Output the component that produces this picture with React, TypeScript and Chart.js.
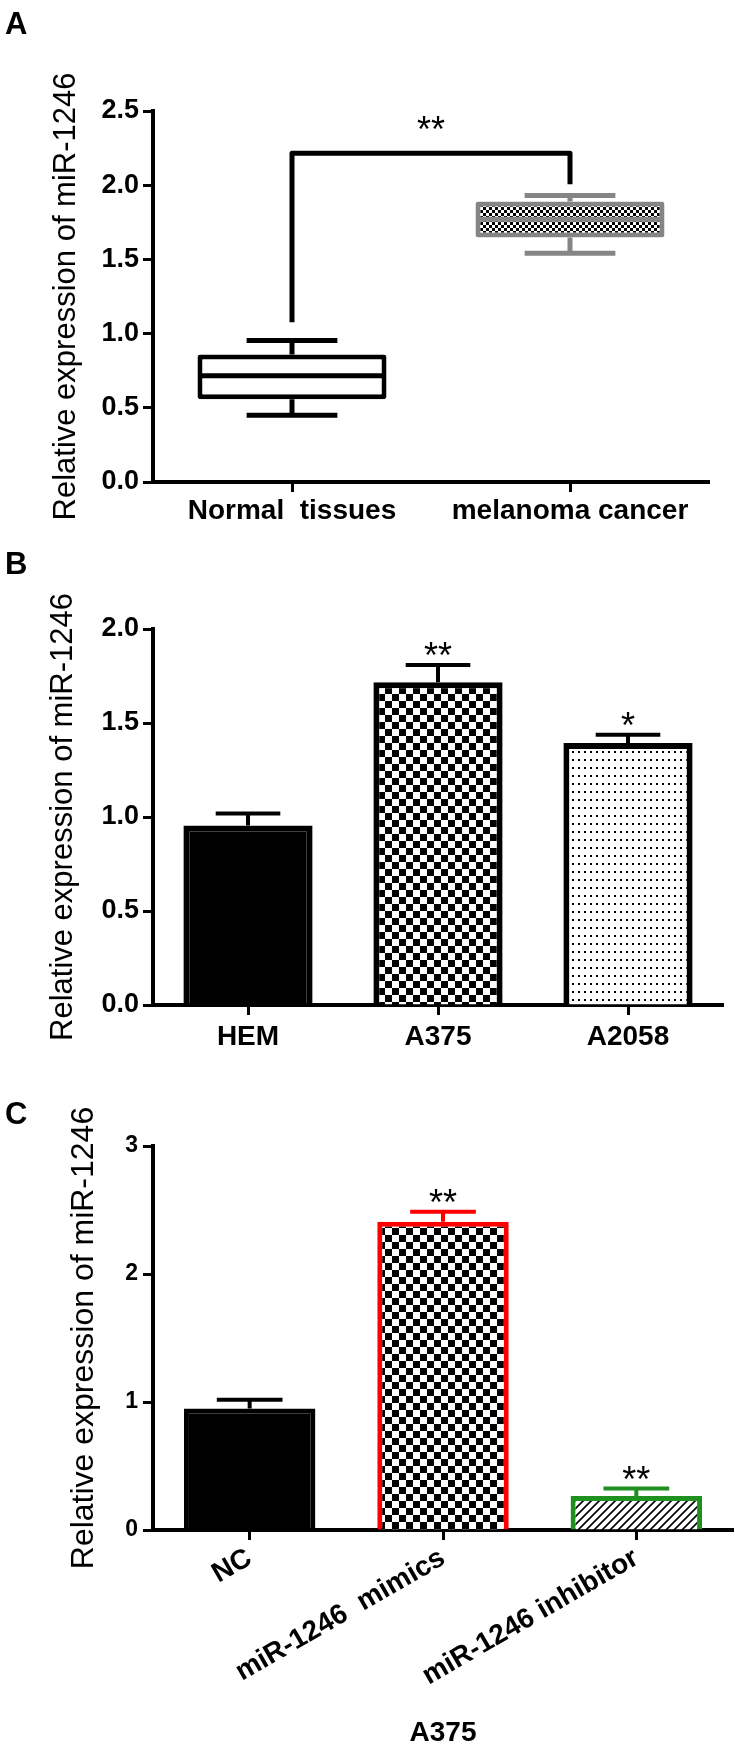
import React, { useEffect, useRef } from 'react';
import { Chart, registerables } from 'chart.js';

Chart.register(...registerables);

// ---------- Panel A : box plot ----------
const boxCategories = ['Normal  tissues', 'melanoma cancer'];
const boxMin = [0.449, 1.542];
const boxQ1 = [0.558, 1.647];
const boxMedian = [0.716, 1.77];
const boxQ3 = [0.86, 1.891];
const boxMax = [0.953, 1.93];
const bracketLegs = [1.077, 2.007];
const bracketTop = 2.216;
const bracketStars = '**';
const boxYTicks = [0, 0.5, 1, 1.5, 2, 2.5];
const boxYTickLabels = ['0.0', '0.5', '1.0', '1.5', '2.0', '2.5'];

// ---------- Panel B : cell lines ----------
const cellCategories = ['HEM', 'A375', 'A2058'];
const cellMeans = [0.955, 1.717, 1.394];
const cellErrors = [0.064, 0.092, 0.043];
const cellStars = ['', '**', '*'];
const cellYTicks = [0, 0.5, 1, 1.5, 2];
const cellYTickLabels = ['0.0', '0.5', '1.0', '1.5', '2.0'];

// ---------- Panel C : A375 transfection ----------
const a375Categories = ['NC', 'miR-1246  mimics', 'miR-1246 inhibitor'];
const a375Means = [0.95, 2.409, 0.266];
const a375Errors = [0.068, 0.078, 0.059];
const a375Stars = ['', '**', '**'];
const a375YTicks = [0, 1, 2, 3];
const a375YTickLabels = ['0', '1', '2', '3'];

const yTitle = 'Relative expression of miR-1246';
const FONT = "'Liberation Sans', Arial, Helvetica, sans-serif";
const W = 735;

function makePattern(w: number, h: number, draw: (c: CanvasRenderingContext2D) => void) {
  const cv = document.createElement('canvas');
  cv.width = w;
  cv.height = h;
  const c = cv.getContext('2d')!;
  c.fillStyle = '#ffffff';
  c.fillRect(0, 0, w, h);
  draw(c);
  return c.createPattern(cv, 'repeat')!;
}

function checker(cell: number) {
  return makePattern(cell * 2, cell * 2, (c) => {
    c.fillStyle = '#000000';
    c.fillRect(0, 0, cell, cell);
    c.fillRect(cell, cell, cell, cell);
  });
}

function dots() {
  return makePattern(6, 8, (c) => {
    c.fillStyle = '#000000';
    c.fillRect(2, 3, 2, 2);
  });
}

function hatch() {
  return makePattern(8, 8, (c) => {
    c.strokeStyle = '#000000';
    c.lineWidth = 1.6;
    c.beginPath();
    c.moveTo(-1, 9);
    c.lineTo(9, -1);
    c.moveTo(-5, 5);
    c.lineTo(5, -5);
    c.moveTo(3, 13);
    c.lineTo(13, 3);
    c.stroke();
  });
}

function drawStars(ctx: CanvasRenderingContext2D, text: string, x: number, cy: number) {
  const size = 36;
  ctx.save();
  ctx.fillStyle = '#000000';
  ctx.font = `${size}px ${FONT}`;
  ctx.textAlign = 'center';
  ctx.textBaseline = 'alphabetic';
  ctx.fillText(text, x, cy + size * 0.57);
  ctx.restore();
}

const boxPlugin = {
  id: 'boxExtras',
  afterDatasetsDraw(chart: any) {
    const ctx: CanvasRenderingContext2D = chart.ctx;
    const y = chart.scales.y;
    const meta = chart.getDatasetMeta(0);
    const colors = ['#000000', '#858585'];
    const xs: number[] = [];
    meta.data.forEach((bar: any, i: number) => {
      const x = bar.x;
      const w = bar.width;
      xs.push(x);
      ctx.save();
      ctx.strokeStyle = colors[i];
      ctx.lineWidth = 5;
      ctx.lineCap = 'butt';
      const capW = w * 0.48;
      const pm = y.getPixelForValue(boxMedian[i]);
      ctx.beginPath();
      ctx.moveTo(x - w / 2 + 3, pm);
      ctx.lineTo(x + w / 2 - 3, pm);
      const p3 = y.getPixelForValue(boxQ3[i]);
      const pMax = y.getPixelForValue(boxMax[i]);
      ctx.moveTo(x, p3);
      ctx.lineTo(x, pMax);
      ctx.moveTo(x - capW / 2, pMax);
      ctx.lineTo(x + capW / 2, pMax);
      const p1 = y.getPixelForValue(boxQ1[i]);
      const pMin = y.getPixelForValue(boxMin[i]);
      ctx.moveTo(x, p1);
      ctx.lineTo(x, pMin);
      ctx.moveTo(x - capW / 2, pMin);
      ctx.lineTo(x + capW / 2, pMin);
      ctx.stroke();
      ctx.restore();
    });
    const top = y.getPixelForValue(bracketTop);
    ctx.save();
    ctx.strokeStyle = '#000000';
    ctx.lineWidth = 5;
    ctx.lineJoin = 'round';
    ctx.beginPath();
    ctx.moveTo(xs[0], y.getPixelForValue(bracketLegs[0]));
    ctx.lineTo(xs[0], top);
    ctx.lineTo(xs[1], top);
    ctx.lineTo(xs[1], y.getPixelForValue(bracketLegs[1]));
    ctx.stroke();
    ctx.restore();
    drawStars(ctx, bracketStars, (xs[0] + xs[1]) / 2, top - 32);
  },
};

function errorPlugin(means: number[], errors: number[], stars: string[], colors: string[]) {
  return {
    id: 'errorBars',
    afterDatasetsDraw(chart: any) {
      const ctx: CanvasRenderingContext2D = chart.ctx;
      const y = chart.scales.y;
      const meta = chart.getDatasetMeta(0);
      meta.data.forEach((bar: any, i: number) => {
        const x = bar.x;
        const w = bar.width;
        const pTop = y.getPixelForValue(means[i]);
        const pCap = y.getPixelForValue(means[i] + errors[i]);
        ctx.save();
        ctx.strokeStyle = colors[i];
        ctx.lineWidth = 4;
        ctx.beginPath();
        ctx.moveTo(x, pTop);
        ctx.lineTo(x, pCap);
        ctx.moveTo(x - w / 4, pCap);
        ctx.lineTo(x + w / 4, pCap);
        ctx.stroke();
        ctx.restore();
        if (stars[i]) drawStars(ctx, stars[i], x, pCap - 17);
      });
    },
  };
}

function axisCommon(tickSize: number) {
  return {
    grid: {
      display: true,
      drawOnChartArea: false,
      drawTicks: true,
      tickLength: 10,
      tickWidth: 3,
      tickColor: '#000000',
      offset: false,
    },
    border: { display: true, color: '#000000', width: 4 },
    ticks: {
      color: '#000000',
      font: { family: FONT, size: tickSize, weight: 'bold', lineHeight: 1 },
    },
  };
}

function baseOptions(padTop: number, padRight: number) {
  return {
    responsive: false,
    animation: false,
    events: [],
    layout: { padding: { top: padTop, right: padRight, left: 0, bottom: 0 } },
    plugins: { legend: { display: false }, tooltip: { enabled: false }, title: { display: false } },
  };
}

function buildA() {
  const xc = axisCommon(28);
  const yc = axisCommon(27);
  return {
    type: 'bar',
    data: {
      labels: boxCategories,
      datasets: [
        {
          data: boxQ1.map((q, i) => [q, boxQ3[i]]),
          backgroundColor: ['#ffffff', checker(3)],
          borderColor: ['#000000', '#858585'],
          borderWidth: 5,
          borderSkipped: false,
          borderRadius: 3,
          barPercentage: 0.68,
          categoryPercentage: 1,
        },
      ],
    },
    options: {
      ...baseOptions(111, 26),
      scales: {
        x: {
          offset: true,
          grid: xc.grid,
          border: xc.border,
          ticks: { ...xc.ticks, padding: 5, maxRotation: 0, minRotation: 0, autoSkip: false },
          afterFit: (s: any) => {
            s.height = 540 - 482;
          },
        },
        y: {
          min: 0,
          max: 2.5,
          grid: yc.grid,
          border: yc.border,
          afterBuildTicks: (s: any) => {
            s.ticks = boxYTicks.map((v) => ({ value: v }));
          },
          ticks: { ...yc.ticks, padding: 4, callback: (_v: any, i: number) => boxYTickLabels[i] },
          title: {
            display: true,
            text: yTitle,
            color: '#000000',
            font: { family: FONT, size: 31, weight: 'normal', lineHeight: 1 },
            padding: { top: 51, bottom: 0 },
          },
          afterFit: (s: any) => {
            s.width = 153;
          },
        },
      },
    },
    plugins: [boxPlugin],
  };
}

function buildB() {
  const xc = axisCommon(28);
  const yc = axisCommon(27);
  return {
    type: 'bar',
    data: {
      labels: cellCategories,
      datasets: [
        {
          data: cellMeans,
          backgroundColor: ['#000000', checker(7), dots()],
          borderColor: '#000000',
          borderWidth: 6,
          barPercentage: 0.68,
          categoryPercentage: 1,
        },
      ],
    },
    options: {
      ...baseOptions(89, 12),
      scales: {
        x: {
          offset: true,
          grid: xc.grid,
          border: xc.border,
          ticks: { ...xc.ticks, padding: 8, maxRotation: 0, minRotation: 0, autoSkip: false },
          afterFit: (s: any) => {
            s.height = 520 - 465;
          },
        },
        y: {
          min: 0,
          max: 2,
          grid: yc.grid,
          border: yc.border,
          afterBuildTicks: (s: any) => {
            s.ticks = cellYTicks.map((v) => ({ value: v }));
          },
          ticks: { ...yc.ticks, padding: 4, callback: (_v: any, i: number) => cellYTickLabels[i] },
          title: {
            display: true,
            text: yTitle,
            color: '#000000',
            font: { family: FONT, size: 31, weight: 'normal', lineHeight: 1 },
            padding: { top: 48, bottom: 0 },
          },
          afterFit: (s: any) => {
            s.width = 153;
          },
        },
      },
    },
    plugins: [errorPlugin(cellMeans, cellErrors, cellStars, ['#000000', '#000000', '#000000'])],
  };
}

function buildC() {
  const xc = axisCommon(28);
  const yc = axisCommon(23);
  const edge = ['#000000', '#ff0000', '#1f8f1f'];
  return {
    type: 'bar',
    data: {
      labels: a375Categories,
      datasets: [
        {
          data: a375Means,
          backgroundColor: ['#000000', checker(7), hatch()],
          borderColor: edge,
          borderWidth: 5,
          barPercentage: 0.68,
          categoryPercentage: 1,
        },
      ],
    },
    options: {
      ...baseOptions(86, 2),
      scales: {
        x: {
          offset: true,
          grid: xc.grid,
          border: xc.border,
          ticks: { ...xc.ticks, padding: 4, maxRotation: 30, minRotation: 30, autoSkip: false },
          title: {
            display: true,
            text: 'A375',
            color: '#000000',
            font: { family: FONT, size: 28, weight: 'bold', lineHeight: 1 },
            padding: { top: 0, bottom: 0 },
          },
          afterFit: (s: any) => {
            s.height = 687 - 470;
          },
        },
        y: {
          min: 0,
          max: 3,
          grid: yc.grid,
          border: yc.border,
          afterBuildTicks: (s: any) => {
            s.ticks = a375YTicks.map((v) => ({ value: v }));
          },
          ticks: { ...yc.ticks, padding: 5, callback: (_v: any, i: number) => a375YTickLabels[i] },
          title: {
            display: true,
            text: yTitle,
            color: '#000000',
            font: { family: FONT, size: 32, weight: 'normal', lineHeight: 1 },
            padding: { top: 68, bottom: 0 },
          },
          afterFit: (s: any) => {
            s.width = 153;
          },
        },
      },
    },
    plugins: [errorPlugin(a375Means, a375Errors, a375Stars, edge)],
  };
}

function Panel({ top, height, build }: { top: number; height: number; build: () => any }) {
  const ref = useRef<HTMLCanvasElement>(null);
  useEffect(() => {
    const chart = new Chart(ref.current as HTMLCanvasElement, build());
    return () => chart.destroy();
  }, []);
  return (
    <canvas
      ref={ref}
      width={W}
      height={height}
      style={{ position: 'absolute', left: 0, top, width: W, height, display: 'block' }}
    />
  );
}

const letterStyle: React.CSSProperties = {
  position: 'absolute',
  left: 5,
  fontFamily: FONT,
  fontWeight: 'bold',
  fontSize: 31,
  lineHeight: '31px',
  color: '#000000',
};

export default function App() {
  return (
    <div style={{ position: 'absolute', left: 0, top: 0, width: W, height: 1747, background: '#ffffff' }}>
      <Panel top={0} height={540} build={buildA} />
      <Panel top={540} height={520} build={buildB} />
      <Panel top={1060} height={687} build={buildC} />
      <div style={{ ...letterStyle, top: 8 }}>A</div>
      <div style={{ ...letterStyle, top: 548 }}>B</div>
      <div style={{ ...letterStyle, top: 1098 }}>C</div>
    </div>
  );
}
